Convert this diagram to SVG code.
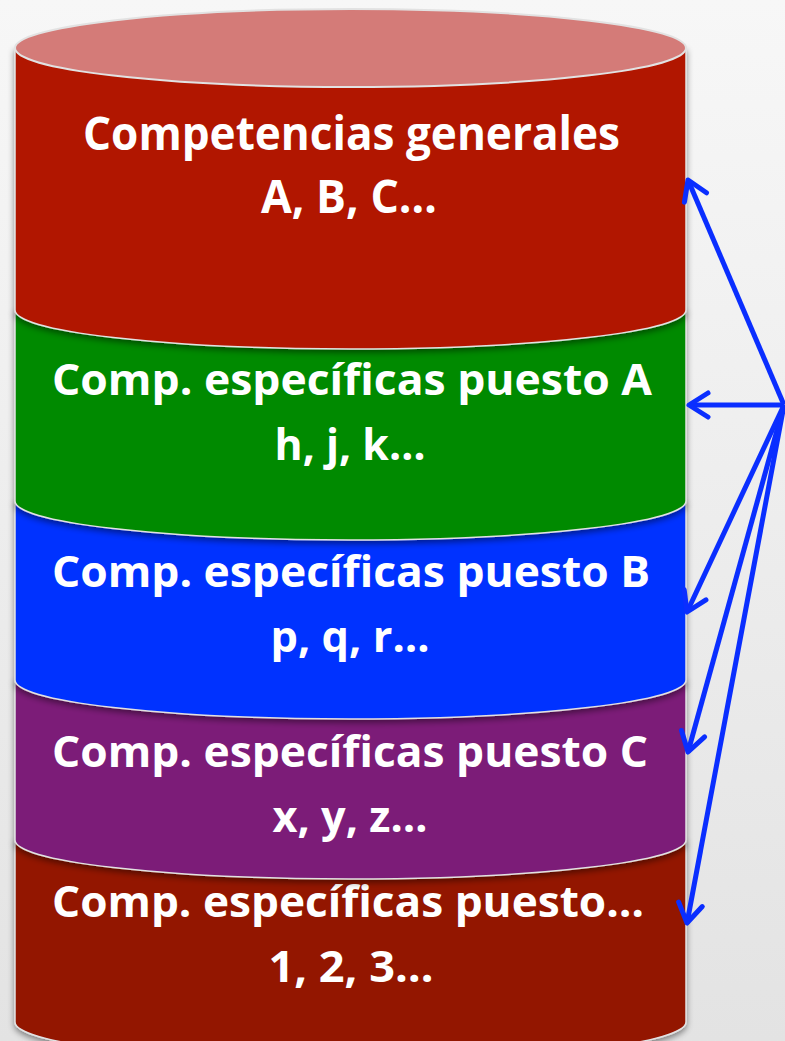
<svg xmlns="http://www.w3.org/2000/svg" width="785" height="1041" viewBox="0 0 785 1041">
<defs>
<linearGradient id="bg" x1="0" y1="0" x2="0" y2="1">
<stop offset="0" stop-color="#F7F7F7"/>
<stop offset="1" stop-color="#E3E3E3"/>
</linearGradient>
<filter id="sh" x="-5%" y="-10%" width="110%" height="130%">
<feDropShadow dx="0" dy="3" stdDeviation="3" flood-color="#000" flood-opacity="0.45"/>
</filter>
<marker id="ah" viewBox="0 0 34 34" refX="29" refY="17" markerWidth="34" markerHeight="34" markerUnits="userSpaceOnUse" orient="auto">
<path d="M10,5 L29,17 L10,29" fill="none" stroke="#0A2EFF" stroke-width="5" stroke-linecap="round" stroke-linejoin="round"/>
</marker>
</defs>
<style>
.layer{stroke:#E2E2E2;stroke-width:1.5;filter:url(#sh)}
.t{font-family:"Open Sans","Liberation Sans",sans-serif;font-weight:bold;fill:#FFFFFF;text-anchor:middle}
.big{font-size:47px}
.mid{font-size:43px}
.conn{fill:none;stroke:#0A2EFF;stroke-width:5;marker-end:url(#ah)}
</style>
<rect x="0" y="0" width="785" height="1041" fill="url(#bg)"/>
<g id="layer5">
<path class="layer" fill="#931300" d="M15,840 L15,1022 A335.5,39 0 0 0 686,1022 L686,840 Z"/>
<text class="t mid" x="348" y="917" textLength="592" lengthAdjust="spacingAndGlyphs">Comp. específicas puesto…</text>
<text class="t mid" x="351" y="982" textLength="165" lengthAdjust="spacingAndGlyphs">1, 2, 3…</text>
</g>
<g id="layer4">
<path class="layer" fill="#7B1A78" d="M15,680 L15,840 A335.5,39 0 0 0 686,840 L686,680 Z"/>
<text class="t mid" x="350" y="767" textLength="596" lengthAdjust="spacingAndGlyphs">Comp. específicas puesto C</text>
<text class="t mid" x="350" y="832" textLength="155" lengthAdjust="spacingAndGlyphs">x, y, z…</text>
</g>
<g id="layer3">
<path class="layer" fill="#0433FF" d="M15,501 L15,680 A335.5,39 0 0 0 686,680 L686,501 Z"/>
<text class="t mid" x="351" y="587" textLength="598" lengthAdjust="spacingAndGlyphs">Comp. específicas puesto B</text>
<text class="t mid" x="350" y="652" textLength="159" lengthAdjust="spacingAndGlyphs">p, q, r…</text>
</g>
<g id="layer2">
<path class="layer" fill="#008A00" d="M15,310 L15,501 A335.5,39 0 0 0 686,501 L686,310 Z"/>
<text class="t mid" x="352" y="395" textLength="600" lengthAdjust="spacingAndGlyphs">Comp. específicas puesto A</text>
<text class="t mid" x="350" y="460" textLength="151" lengthAdjust="spacingAndGlyphs">h, j, k…</text>
</g>
<g id="layer1">
<path class="layer" fill="#B11900" d="M15,48 L15,310 A335.5,39 0 0 0 686,310 L686,48 Z"/>
<ellipse cx="350.5" cy="48" rx="335.5" ry="39" fill="#D47B78" stroke="#E2E2E2" stroke-width="2"/>
<text class="t big" x="351.5" y="150" textLength="537" lengthAdjust="spacingAndGlyphs">Competencias generales</text>
<text class="t big" x="349" y="213" textLength="176" lengthAdjust="spacingAndGlyphs">A, B, C…</text>
</g>
<g id="connectors">
<line class="conn" x1="784" y1="405" x2="688" y2="180"/>
<line class="conn" x1="784" y1="405" x2="689" y2="405"/>
<line class="conn" x1="784" y1="405" x2="687" y2="612"/>
<line class="conn" x1="784" y1="405" x2="688" y2="752"/>
<line class="conn" x1="784" y1="405" x2="687" y2="923"/>
</g>
</svg>
